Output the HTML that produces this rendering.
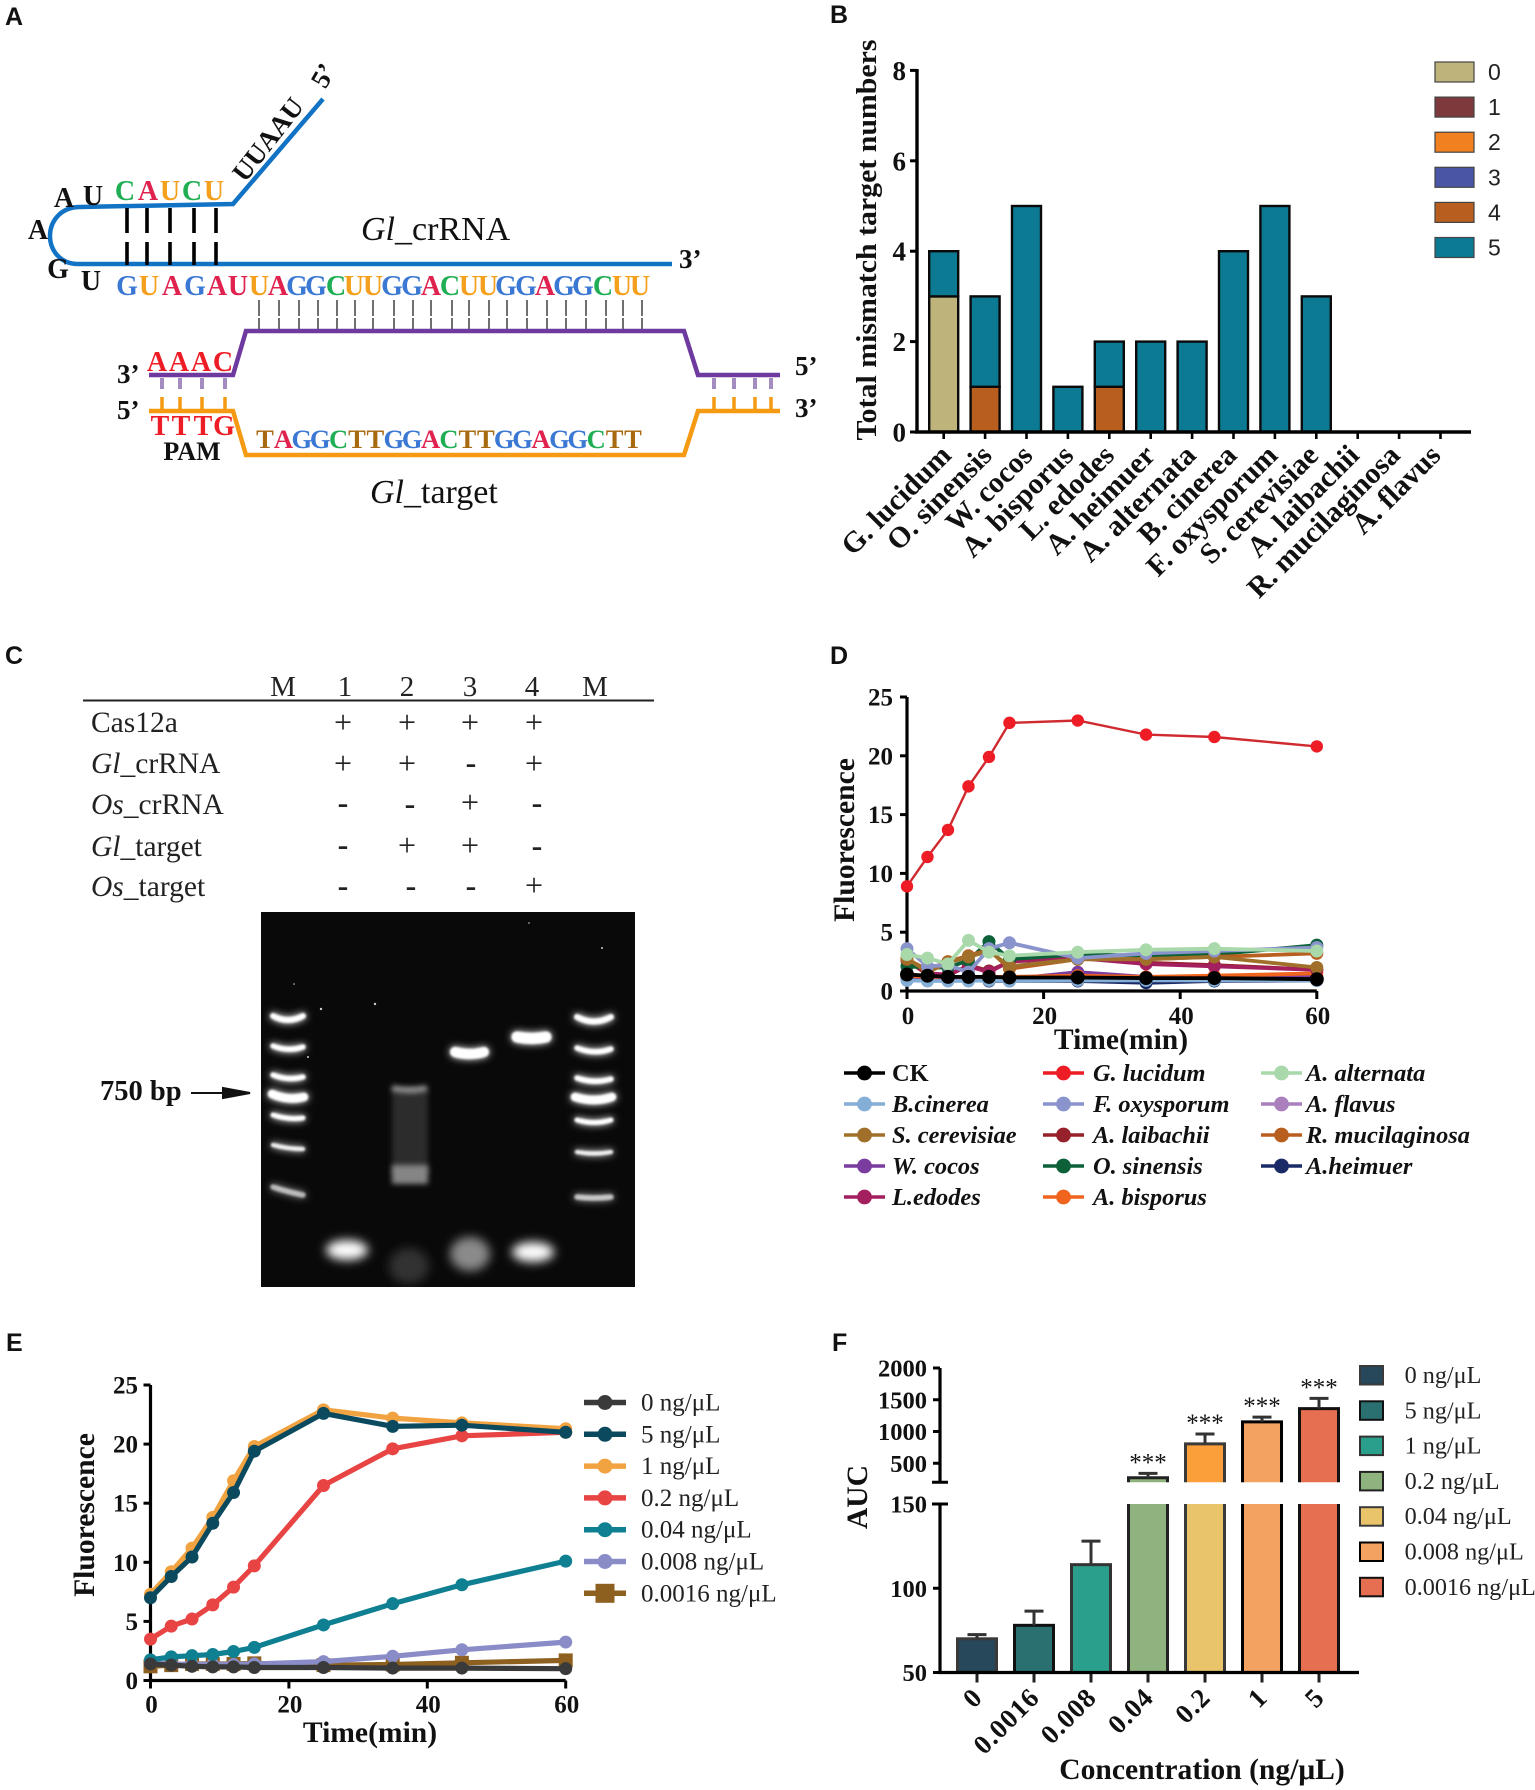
<!DOCTYPE html>
<html lang="en">
<head>
<meta charset="utf-8">
<title>Cas12a crRNA figure panels</title>
<style>
html,body{margin:0;padding:0;background:#fff;}
svg{display:block;}
text{font-family:"Liberation Serif","Noto Serif CJK SC",serif;}
.panel-letter{font-family:"Liberation Sans",sans-serif;font-weight:bold;font-size:25px;fill:#111;}
.b{font-weight:bold;}
.seq{font-weight:bold;font-size:28px;text-anchor:middle;}
.bl{fill:#3a78d4}.or{fill:#f5a01c}.cr{fill:#e0224e}.gr{fill:#1fae54}.br{fill:#a86a10}
</style>
</head>
<body>
<svg id="fig" width="1535" height="1790" viewBox="0 0 1535 1790">
<defs>
<filter id="glow" filterUnits="userSpaceOnUse" x="240" y="900" width="420" height="400"><feGaussianBlur in="SourceGraphic" stdDeviation="4" result="a"/><feGaussianBlur in="SourceGraphic" stdDeviation="1" result="b"/><feMerge><feMergeNode in="a"/><feMergeNode in="b"/></feMerge></filter>
<filter id="soft" filterUnits="userSpaceOnUse" x="240" y="900" width="420" height="400"><feGaussianBlur stdDeviation="5"/></filter>
<filter id="smear" filterUnits="userSpaceOnUse" x="240" y="900" width="420" height="400"><feGaussianBlur stdDeviation="2.6"/></filter>
<clipPath id="gel-clip"><rect x="261" y="912" width="374" height="375"/></clipPath>
</defs>

<!-- PANEL A -->
<g>
<text class="panel-letter" x="5" y="25">A</text>
<path d="M323 99 L233 204 L80 207 C60 207 50 222 50 236 C50 250 60 264 78 264 L672 264" fill="none" stroke="#1273c4" stroke-width="4.5"/>
<path d="M127 208V233M127 242V265M147 208V233M147 242V265M170 208V233M170 242V265M194 208V233M194 242V265M216 208V233M216 242V265" stroke="#000" stroke-width="3.6" fill="none"/>
<g font-weight="bold" font-size="28" text-anchor="middle" fill="#111">
<text x="64" y="207">A</text><text x="93" y="205">U</text><text x="38" y="239">A</text><text x="58" y="278">G</text><text x="91" y="290">U</text>
</g>
<text class="seq" x="125 148 170 192 214" y="200"><tspan class="gr">C</tspan><tspan class="cr">A</tspan><tspan class="or">U</tspan><tspan class="gr">C</tspan><tspan class="or">U</tspan></text>
<text class="seq" x="127 149 172 195 217 238 259 278 297 316 336 354 373 392 412 431 450 469 488 506 526 545 564 583 603 622 640" y="295"><tspan class="bl">G</tspan><tspan class="or">U</tspan><tspan class="cr">A</tspan><tspan class="bl">G</tspan><tspan class="cr">A</tspan><tspan class="cr">U</tspan><tspan class="or">U</tspan><tspan class="cr">A</tspan><tspan class="bl">GG</tspan><tspan class="gr">C</tspan><tspan class="or">UU</tspan><tspan class="bl">GG</tspan><tspan class="cr">A</tspan><tspan class="gr">C</tspan><tspan class="or">UU</tspan><tspan class="bl">GG</tspan><tspan class="cr">A</tspan><tspan class="bl">GG</tspan><tspan class="gr">C</tspan><tspan class="or">UU</tspan></text>
<text font-weight="bold" font-size="27" fill="#111" text-anchor="middle" transform="translate(275 145) rotate(-52)">UUAAU</text>
<text font-weight="bold" font-size="27" fill="#111" text-anchor="middle" transform="translate(331 80) rotate(-60)">5’</text>
<text font-weight="bold" font-size="27" fill="#111" x="679" y="268">3’</text>
<text font-size="34" fill="#111" x="361" y="240"><tspan font-style="italic">Gl</tspan>_crRNA</text>
<path d="M259 300V329M279 300V329M299 300V329M318 300V329M337 300V329M355 300V329M373 300V329M394 300V329M413 300V329M431 300V329M452 300V329M469 300V329M489 300V329M507 300V329M527 300V329M547 300V329M566 300V329M586 300V329M606 300V329M623 300V329M642 300V329" stroke="#111" stroke-width="1.2" stroke-dasharray="16 2" fill="none"/>
<path d="M149 375H233L246 331H684L698 375H780" fill="none" stroke="#6f3aa0" stroke-width="4.5"/>
<path d="M149 411H233L246 455H684L698 411H780" fill="none" stroke="#f59a12" stroke-width="4.5"/>
<path d="M162 378V389M180 378V389M202 378V389M225 378V389M714 378V389M734 378V389M755 378V389M771 378V389" stroke="#a48bc2" stroke-width="4" fill="none"/>
<path d="M162 397V410M180 397V410M202 397V410M225 397V410M714 397V410M734 397V410M755 397V410M771 397V410" stroke="#f59a12" stroke-width="3.5" fill="none"/>
<text class="seq" fill="#ee1c25" x="157 179 201 223" y="371">AAAC</text>
<text class="seq" fill="#ee1c25" x="160 181 203 224" y="435">TTTG</text>
<text font-weight="bold" font-size="26" fill="#111" text-anchor="middle" x="192" y="460">PAM</text>
<text font-weight="bold" font-size="27" fill="#111" x="117" y="383">3’</text>
<text font-weight="bold" font-size="27" fill="#111" x="117" y="419">5’</text>
<text font-weight="bold" font-size="27" fill="#111" x="795" y="375">5’</text>
<text font-weight="bold" font-size="27" fill="#111" x="795" y="417">3’</text>
<text class="seq" style="font-size:26.5px" x="265 283.4 301.8 320.2 338.6 357 375.4 393.8 412.2 430.6 449 467.4 485.8 504.2 522.6 541 559.4 577.8 596.2 614.6 633" y="448"><tspan class="br">T</tspan><tspan class="cr">A</tspan><tspan class="bl">GG</tspan><tspan class="gr">C</tspan><tspan class="br">TT</tspan><tspan class="bl">GG</tspan><tspan class="cr">A</tspan><tspan class="gr">C</tspan><tspan class="br">TT</tspan><tspan class="bl">GG</tspan><tspan class="cr">A</tspan><tspan class="bl">GG</tspan><tspan class="gr">C</tspan><tspan class="br">TT</tspan></text>
<text font-size="34" fill="#111" x="370" y="503"><tspan font-style="italic">Gl</tspan>_target</text>
</g>

<!-- PANEL C -->
<g>
<text class="panel-letter" x="5" y="664">C</text>
<g font-size="29" fill="#222" text-anchor="middle">
<text x="283" y="696">M</text><text x="345" y="696">1</text><text x="407" y="696">2</text><text x="470" y="696">3</text><text x="532" y="696">4</text><text x="595" y="696">M</text>
</g>
<line x1="83" x2="654" y1="700.5" y2="700.5" stroke="#222" stroke-width="2"/>
<g font-size="29.5" fill="#222">
<text x="91" y="732">Cas12a</text>
<text x="91" y="773"><tspan font-style="italic">Gl</tspan>_crRNA</text>
<text x="91" y="814"><tspan font-style="italic">Os</tspan>_crRNA</text>
<text x="91" y="856"><tspan font-style="italic">Gl</tspan>_target</text>
<text x="91" y="896"><tspan font-style="italic">Os</tspan>_target</text>
</g>
<g font-size="32" fill="#222" text-anchor="middle">
<text x="343" y="733">+</text><text x="407" y="733">+</text><text x="470" y="733">+</text><text x="534" y="733">+</text>
<text x="343" y="774">+</text><text x="407" y="774">+</text><text x="471" y="773" font-weight="bold">-</text><text x="534" y="774">+</text>
<text x="343" y="813" font-weight="bold">-</text><text x="410" y="814" font-weight="bold">-</text><text x="470" y="813">+</text><text x="537" y="813" font-weight="bold">-</text>
<text x="343" y="855" font-weight="bold">-</text><text x="407" y="856">+</text><text x="470" y="856">+</text><text x="537" y="856" font-weight="bold">-</text>
<text x="343" y="896" font-weight="bold">-</text><text x="411" y="896" font-weight="bold">-</text><text x="471" y="896" font-weight="bold">-</text><text x="534" y="896">+</text>
</g>
<g clip-path="url(#gel-clip)">
<rect x="261" y="912" width="374" height="375" fill="#090909"/>
<g fill="none" stroke="#fff" stroke-linecap="round" filter="url(#glow)">
<path d="M273 1016 Q288 1024 303 1016" stroke-width="6"/>
<path d="M273 1046 Q288 1052 303 1047" stroke-width="5.5"/>
<path d="M273 1075 Q288 1081 303 1077" stroke-width="5.5"/>
<path d="M272 1094 Q288 1101 304 1097" stroke-width="8.5"/>
<path d="M273 1115 Q288 1120 303 1118" stroke-width="5"/>
<path d="M273 1145 Q288 1149 303 1149" stroke-width="4.4" opacity="0.9"/>
<path d="M273 1187 Q288 1192 303 1195" stroke-width="5.5" opacity="0.6"/>
</g>
<g fill="none" stroke="#fff" stroke-linecap="round" filter="url(#glow)">
<path d="M577 1017 Q594 1026 611 1017" stroke-width="6"/>
<path d="M577 1048 Q594 1055 611 1049" stroke-width="5.5"/>
<path d="M577 1078 Q594 1084 611 1079" stroke-width="5.5"/>
<path d="M575 1097 Q594 1103 612 1097" stroke-width="8.5"/>
<path d="M577 1120 Q594 1125 611 1120" stroke-width="5"/>
<path d="M577 1152 Q594 1155 611 1152" stroke-width="4.4" opacity="0.9"/>
<path d="M577 1197 Q594 1199 611 1197" stroke-width="5.5" opacity="0.65"/>
</g>
<g fill="none" stroke="#fff" stroke-linecap="round" filter="url(#glow)">
<path d="M455 1052 Q470 1056 484 1052" stroke-width="10"/>
<path d="M517 1037 Q532 1040 546 1037" stroke-width="11"/>
</g>
<g>
<rect x="392" y="1090" width="36" height="85" fill="#4a4a4a" opacity="0.55" filter="url(#smear)"/>
<path d="M392 1088 Q409 1092 427 1088" stroke="#9a9a9a" stroke-width="6" fill="none" filter="url(#smear)"/>
<rect x="392" y="1165" width="36" height="19" fill="#858585" filter="url(#smear)"/>
</g>
<g filter="url(#soft)">
<ellipse cx="347" cy="1250" rx="21" ry="10" fill="#fff"/>
<ellipse cx="347" cy="1250" rx="13" ry="6" fill="#fff"/>
<ellipse cx="409" cy="1266" rx="20" ry="18" fill="#303030"/>
<ellipse cx="470" cy="1254" rx="20" ry="17" fill="#8a8a8a"/>
<ellipse cx="533" cy="1252" rx="21" ry="10" fill="#fff"/>
<ellipse cx="533" cy="1252" rx="13" ry="6" fill="#fff"/>
</g>
<g fill="#ccc">
<circle cx="321" cy="1009" r="1.2"/><circle cx="375" cy="1004" r="1.2"/><circle cx="294" cy="984" r="0.8"/><circle cx="602" cy="948" r="1"/><circle cx="308" cy="1057" r="1"/><circle cx="529" cy="923" r="0.8"/>
</g>
</g>
<text font-weight="bold" font-size="28.5" fill="#111" x="100" y="1100">750 bp</text>
<path d="M191 1093H226M223 1088L250 1093L223 1098Z" stroke="#111" stroke-width="2" fill="#111"/>
</g>

<text class="panel-letter" x="830" y="23">B</text>
<text class="panel-letter" x="830" y="664">D</text>
<text class="panel-letter" x="6" y="1351">E</text>
<text class="panel-letter" x="832" y="1351">F</text>
<g id="chart-b"></g>
<g id="chart-d"></g>
<g id="chart-e"></g>
<g id="chart-f"></g>
</svg>

<script>
/* ---------- Chart B data ---------- */
const speciesLabels = ['G. lucidum','O. sinensis','W. cocos','A. bisporus','L. edodes','A. heimuer','A. alternata','B. cinerea','F. oxysporum','S. cerevisiae','A. laibachii','R. mucilaginosa','A. flavus'];
const mismatch0 = [3,0,0,0,0,0,0,0,0,0,0,0,0];
const mismatch1 = [0,0,0,0,0,0,0,0,0,0,0,0,0];
const mismatch2 = [0,0,0,0,0,0,0,0,0,0,0,0,0];
const mismatch3 = [0,0,0,0,0,0,0,0,0,0,0,0,0];
const mismatch4 = [0,1,0,0,1,0,0,0,0,0,0,0,0];
const mismatch5 = [1,2,5,1,1,2,2,4,5,3,0,0,0];
const mismatchTicks = [0,2,4,6,8];
const mismatchLegend = ['0','1','2','3','4','5'];

/* ---------- Chart D data ---------- */
const timePoints = [0,3,6,9,12,15,25,35,45,60];
const timeTicks = [0,20,40,60];
const fluorTicks = [0,5,10,15,20,25];
const specCK = [1.4,1.3,1.2,1.2,1.2,1.15,1.15,1.1,1.1,1.0];
const specLucidum = [8.9,11.4,13.7,17.4,19.9,22.8,23.0,21.8,21.6,20.8];
const specAlternata = [3.1,2.8,2.3,4.3,3.3,3.0,3.3,3.5,3.6,3.4];
const specCinerea = [0.9,0.85,0.85,0.85,0.9,0.85,0.9,0.9,0.9,0.9];
const specOxysporum = [3.6,2.1,2.2,1.6,3.6,4.1,2.8,3.2,3.4,3.7];
const specFlavus = [1.1,1.0,1.0,1.0,1.0,1.0,1.5,1.1,1.1,1.1];
const specCerevisiae = [2.8,1.6,2.4,2.9,3.4,2.1,2.7,2.7,2.9,2.0];
const specLaibachii = [2.6,1.4,1.3,2.2,1.7,2.5,2.9,2.4,2.2,1.8];
const specMucilaginosa = [2.7,1.8,2.5,3.0,3.5,1.9,2.7,2.7,2.9,3.2];
const specCocos = [1.1,1.1,1.0,1.1,1.0,1.0,1.6,1.2,1.2,1.2];
const specSinensis = [2.1,2.0,2.0,2.6,4.2,2.7,3.1,3.0,3.1,3.9];
const specHeimuer = [1.5,1.0,1.0,1.0,0.85,0.85,0.85,0.7,0.85,0.9];
const specEdodes = [2.6,1.5,1.4,2.1,1.6,2.5,2.8,2.3,2.1,1.8];
const specBisporus = [1.3,1.2,1.2,1.2,1.2,1.2,1.3,1.2,1.3,1.5];

/* ---------- Chart E data ---------- */
const conc0 = [1.4,1.3,1.2,1.15,1.15,1.1,1.1,1.05,1.05,1.0];
const conc5 = [7.0,8.8,10.45,13.3,15.9,19.4,22.6,21.5,21.6,21.0];
const conc1 = [7.3,9.2,11.2,13.8,16.9,19.8,22.9,22.2,21.8,21.3];
const conc02 = [3.5,4.6,5.2,6.4,7.9,9.7,16.5,19.6,20.7,21.0];
const conc004 = [1.75,2.0,2.1,2.2,2.45,2.8,4.7,6.5,8.1,10.1];
const conc0008 = [1.5,1.4,1.35,1.35,1.35,1.4,1.6,2.05,2.6,3.25];
const conc00016 = [1.2,1.3,1.4,1.4,1.4,1.45,1.3,1.35,1.5,1.7];

/* ---------- Chart F data ---------- */
const aucCategories = ['0','0.0016','0.008','0.04','0.2','1','5'];
const aucValues = [70,78,114,271,806,1152,1361];
const aucErrorTops = [72.5,86.4,128,340,961,1226,1522];
const aucSignificance = ['','','','***','***','***','***'];
const aucLowerTicks = [50,100,150];
const aucUpperTicks = [500,1000,1500,2000];
const aucLegend = ['0 ng/μL','5 ng/μL','1 ng/μL','0.2 ng/μL','0.04 ng/μL','0.008 ng/μL','0.0016 ng/μL'];

/* ---------- helpers ---------- */
const NS = document.getElementById('fig').namespaceURI;
function mk(tag, attrs, parent){
  const el = document.createElementNS(NS, tag);
  for (const k in attrs) el.setAttribute(k, attrs[k]);
  parent.appendChild(el);
  return el;
}
function label(parent, x, y, str, attrs){
  const el = mk('text', Object.assign({x:x, y:y, fill:'#111'}, attrs), parent);
  el.textContent = str;
  return el;
}
function pts(xs, ys, fx, fy){
  return xs.map(function(v,i){ return fx(v).toFixed(1)+','+fy(ys[i]).toFixed(1); }).join(' ');
}

/* ---------- Chart B ---------- */
(function(){
  const g = document.getElementById('chart-b');
  const xB = function(i){ return 943.7 + 41.4*i; };
  const yB = function(v){ return 432 - 45.2*v; };
  const stacks = [
    {vals:mismatch0, color:'#bfb37c'},
    {vals:mismatch1, color:'#7d393c'},
    {vals:mismatch2, color:'#f08020'},
    {vals:mismatch3, color:'#4a55a5'},
    {vals:mismatch4, color:'#b85f1f'},
    {vals:mismatch5, color:'#0d7a94'}
  ];
  speciesLabels.forEach(function(name,i){
    let base = 0;
    stacks.forEach(function(s){
      const v = s.vals[i];
      if (v > 0) {
        const r = mk('rect',{x:xB(i)-14.5, y:yB(base+v), width:29, height:yB(base)-yB(base+v), fill:s.color, stroke:'#0a0a0a','stroke-width':2.4}, g);
        
        
      }
      base += v;
    });
    const t = mk('line',{x1:xB(i),x2:xB(i),y1:432,y2:439,stroke:'#000','stroke-width':2.6}, g);
    
    
    const l = label(g,0,0,name,{'font-weight':'bold','font-size':29.5,'text-anchor':'end',transform:'translate('+(xB(i)+9-0.6*i)+' 457) rotate(-45)'});
    
    
  });
  const ax = mk('path',{d:'M917 69V432M915 432H1471',stroke:'#000','stroke-width':3.4,fill:'none'}, g);
  
  
  mismatchTicks.forEach(function(v){
    const t = mk('line',{x1:910,x2:917,y1:yB(v),y2:yB(v),stroke:'#000','stroke-width':3}, g);
    
    
    const l = label(g,906,yB(v)+9.5,String(v),{'font-weight':'bold','font-size':27,'text-anchor':'end'});
    
    
  });
  const yt = label(g,0,0,'Total mismatch target numbers',{'font-weight':'bold','font-size':28,'text-anchor':'middle',textLength:401,lengthAdjust:'spacingAndGlyphs',transform:'translate(876 240) rotate(-90)'});
  
  
  mismatchLegend.forEach(function(name,i){
    const top = 62 + 35.1*i;
    const s = mk('rect',{x:1435,y:top,width:39,height:20,fill:stacks[i].color,stroke:'#444','stroke-width':1.2}, g);
    
    
    const l = label(g,1488,top+18,name,{'font-size':23,style:'font-family:"Liberation Sans",sans-serif',fill:'#222'});
    
    
  });
})();

/* ---------- Line chart axes shared by D and E ---------- */
function lineAxes(g, xf, yf, cfg){
  const ax = mk('path',{d:'M'+xf(0)+' '+yf(25)+'V'+yf(0)+'M'+(xf(0)-1)+' '+yf(0)+'H'+xf(60),stroke:'#000','stroke-width':3.2,fill:'none'}, g);
  
  
  fluorTicks.forEach(function(v){
    const t = mk('line',{x1:xf(0)-7,x2:xf(0),y1:yf(v),y2:yf(v),stroke:'#000','stroke-width':3}, g);
    
    
    const l = label(g,cfg.yLabelX,yf(v)+8.5,String(v),{'font-weight':'bold','font-size':25,'text-anchor':'end'});
    
    
  });
  timeTicks.forEach(function(v){
    const t = mk('line',{x1:xf(v),x2:xf(v),y1:yf(0),y2:yf(0)+8,stroke:'#000','stroke-width':3}, g);
    
    
    const l = label(g,xf(v)+1,cfg.xLabelY,String(v),{'font-weight':'bold','font-size':25,'text-anchor':'middle'});
    
    
  });
  const xt = label(g,cfg.titleX,cfg.titleY,'Time(min)',{'font-weight':'bold','font-size':29.6,'text-anchor':'middle'});
  
  
  const yt = label(g,0,0,'Fluorescence',{'font-weight':'bold','font-size':29.6,'text-anchor':'middle',transform:'translate('+cfg.yTitleX+' '+cfg.yTitleY+') rotate(-90)'});
  
  
}

/* ---------- Chart D ---------- */
(function(){
  const g = document.getElementById('chart-d');
  const xD = function(t){ return 907 + 6.83*t; };
  const yD = function(v){ return 991 - 11.76*v; };
  lineAxes(g,xD,yD,{yLabelX:893,xLabelY:1024,titleX:1121,titleY:1049,yTitleX:854,yTitleY:840});
  const entries = [
    {name:'CK', vals:specCK, color:'#000000', upright:true},
    {name:'G. lucidum', vals:specLucidum, color:'#ee1c25'},
    {name:'A. alternata', vals:specAlternata, color:'#a9d8aa'},
    {name:'B.cinerea', vals:specCinerea, color:'#85aed6'},
    {name:'F. oxysporum', vals:specOxysporum, color:'#8a94cc'},
    {name:'A. flavus', vals:specFlavus, color:'#a97fbd'},
    {name:'S. cerevisiae', vals:specCerevisiae, color:'#a0702a'},
    {name:'A. laibachii', vals:specLaibachii, color:'#97212b'},
    {name:'R. mucilaginosa', vals:specMucilaginosa, color:'#b85f1f'},
    {name:'W. cocos', vals:specCocos, color:'#7a3c9e'},
    {name:'O. sinensis', vals:specSinensis, color:'#0c6138'},
    {name:'A.heimuer', vals:specHeimuer, color:'#1a2a66'},
    {name:'L.edodes', vals:specEdodes, color:'#a31f5e'},
    {name:'A. bisporus', vals:specBisporus, color:'#f0641e'}
  ];
  [11,5,9,13,3,7,12,10,8,6,4,2,1,0].forEach(function(idx){
    const e = entries[idx];
    const red = idx === 1;
    const line = mk('polyline',{points:pts(timePoints,e.vals,xD,yD),fill:'none',stroke:red?'#cf2a30':e.color,'stroke-width':red?2.4:3.8}, g);
    
    
    timePoints.forEach(function(t,i){
      const c = mk('circle',{cx:xD(t),cy:yD(e.vals[i]),r:idx===0?7:(red?6.2:6.5),fill:e.color}, g);
      
      
    });
  });
  const colX = [844,1043,1261];
  const textX = [892,1093,1306];
  entries.forEach(function(e,i){
    const col = i % 3;
    const y = 1073 + 31*Math.floor(i/3);
    const ln = mk('line',{x1:colX[col],x2:colX[col]+41,y1:y,y2:y,stroke:e.color,'stroke-width':3.4}, g);
    
    
    const c = mk('circle',{cx:colX[col]+20.5,cy:y,r:7.4,fill:e.color}, g);
    
    
    const attrs = {'font-weight':'bold','font-size':24.4};
    if (!e.upright) attrs['font-style'] = 'italic';
    const l = label(g,textX[col],y+8,e.name,attrs);
    
    
  });
})();

/* ---------- Chart E ---------- */
(function(){
  const g = document.getElementById('chart-e');
  const xE = function(t){ return 150.5 + 6.92*t; };
  const yE = function(v){ return 1680.5 - 11.82*v; };
  lineAxes(g,xE,yE,{yLabelX:138,xLabelY:1712.5,titleX:370,titleY:1742,yTitleX:94,yTitleY:1515});
  const entries = [
    {name:'0 ng/μL', vals:conc0, color:'#3a3a3a'},
    {name:'5 ng/μL', vals:conc5, color:'#0b4a5e'},
    {name:'1 ng/μL', vals:conc1, color:'#f2a341'},
    {name:'0.2 ng/μL', vals:conc02, color:'#e84444'},
    {name:'0.04 ng/μL', vals:conc004, color:'#0f7f92'},
    {name:'0.008 ng/μL', vals:conc0008, color:'#8a8cc8'},
    {name:'0.0016 ng/μL', vals:conc00016, color:'#8e6020', square:true}
  ];
  [6,5,4,3,2,1,0].forEach(function(idx){
    const e = entries[idx];
    const line = mk('polyline',{points:pts(timePoints,e.vals,xE,yE),fill:'none',stroke:e.color,'stroke-width':5.2}, g);
    
    
    timePoints.forEach(function(t,i){
      let m;
      if (e.square) {
        m = mk('rect',{x:xE(t)-7,y:yE(e.vals[i])-7,width:14,height:14,fill:e.color}, g);
      } else {
        m = mk('circle',{cx:xE(t),cy:yE(e.vals[i]),r:6.5,fill:e.color}, g);
      }
      
      
    });
  });
  entries.forEach(function(e,i){
    const y = 1402.5 + 31.8*i;
    const ln = mk('line',{x1:584,x2:626,y1:y,y2:y,stroke:e.color,'stroke-width':5.5}, g);
    
    
    let m;
    if (e.square) {
      m = mk('rect',{x:595.5,y:y-9.5,width:19,height:19,fill:e.color}, g);
    } else {
      m = mk('circle',{cx:605,cy:y,r:7.5,fill:e.color}, g);
    }
    
    
    const l = label(g,641,y+8,e.name,{'font-size':25,fill:'#222'});
    
    
  });
})();

/* ---------- Chart F ---------- */
(function(){
  const g = document.getElementById('chart-f');
  const LOW_TOP = 150, UP_BOT = 200;
  const xF = function(i){ return 977 + 57*i; };
  const yF = function(v){
    if (v <= LOW_TOP) return 1672.5 - (v-50)*1.685;
    return 1482.3 - (v-UP_BOT)*0.0635;
  };
  const fills = ['#27475a','#2a7070','#2aa08c','#8fb37e','#e9c46a','#f4a261','#e76f51'];
  const upperFills = ['#27475a','#2a7070','#2aa08c','#8fb37e','#fa9f3a','#f4a261','#e76f51'];
  const edges = ['#3a3a3a','#111111','#333333','#222222','#3a3a3a','#000000','#111111'];
  const legendFills = ['#27475a','#2a7070','#2aa08c','#8fb37e','#e9c46a','#f4a261','#e76f51'];
  const W = 39;
  aucCategories.forEach(function(cat,i){
    const v = aucValues[i], x = xF(i)-W/2, right = x+W, base = yF(50);
    if (v <= LOW_TOP) {
      const r = mk('rect',{x:x,y:yF(v),width:W,height:base-yF(v),fill:fills[i],stroke:edges[i],'stroke-width':3}, g);
      
      
    } else {
      const low = mk('path',{d:'M'+x+' '+yF(LOW_TOP)+'V'+base+'H'+right+'V'+yF(LOW_TOP),fill:fills[i],stroke:edges[i],'stroke-width':3}, g);
      
      
      const up = mk('path',{d:'M'+x+' '+yF(UP_BOT)+'V'+yF(v)+'H'+right+'V'+yF(UP_BOT),fill:upperFills[i],stroke:edges[i],'stroke-width':3}, g);
      
      
    }
    const err = mk('path',{d:'M'+xF(i)+' '+yF(v)+'V'+yF(aucErrorTops[i])+'M'+(xF(i)-9.5)+' '+yF(aucErrorTops[i])+'H'+(xF(i)+9.5),stroke:'#333','stroke-width':3,fill:'none'}, g);
    
    
    if (aucSignificance[i]) {
      const s = label(g,xF(i),yF(aucErrorTops[i])-3,aucSignificance[i],{'font-size':25,'text-anchor':'middle',fill:'#111'});
      
      
    }
    const t = mk('line',{x1:xF(i),x2:xF(i),y1:yF(50),y2:yF(50)+10,stroke:'#222','stroke-width':3}, g);
    
    
    const l = label(g,0,0,cat,{'font-weight':'bold','font-size':27,'letter-spacing':'1px','text-anchor':'end',transform:'translate('+(xF(i)+7)+' 1699) rotate(-45)'});
    
    
  });
  const ax = mk('path',{d:'M940 '+yF(2000)+'V'+yF(UP_BOT)+'M940 '+yF(LOW_TOP)+'V'+yF(50)+'M938 '+yF(50)+'H1359',stroke:'#000','stroke-width':3.2,fill:'none'}, g);
  
  
  const breakMarks = mk('path',{d:'M932 '+yF(UP_BOT)+'H948M932 '+yF(LOW_TOP)+'H948',stroke:'#000','stroke-width':3,fill:'none'}, g);
  
  
  aucLowerTicks.concat(aucUpperTicks).forEach(function(v){
    const t = mk('line',{x1:933,x2:940,y1:yF(v),y2:yF(v),stroke:'#000','stroke-width':3}, g);
    
    
    const l = label(g,927,yF(v)+8.5,String(v),{'font-weight':'bold','font-size':24.5,'text-anchor':'end'});
    
    
  });
  const yt = label(g,0,0,'AUC',{'font-weight':'bold','font-size':29.6,'text-anchor':'middle',transform:'translate(867 1497) rotate(-90)'});
  
  
  const xt = label(g,1202,1779,'Concentration (ng/μL)',{'font-weight':'bold','font-size':29.6,'text-anchor':'middle'});
  
  
  aucLegend.forEach(function(name,i){
    const y = 1366 + 35.3*i;
    const s = mk('rect',{x:1360,y:y,width:23,height:18.5,fill:legendFills[i],stroke:edges[i],'stroke-width':2}, g);
    
    
    const l = label(g,1404.6,y+17,name,{'font-size':24.2,fill:'#222'});
    
    
  });
})();
</script>
</body>
</html>
